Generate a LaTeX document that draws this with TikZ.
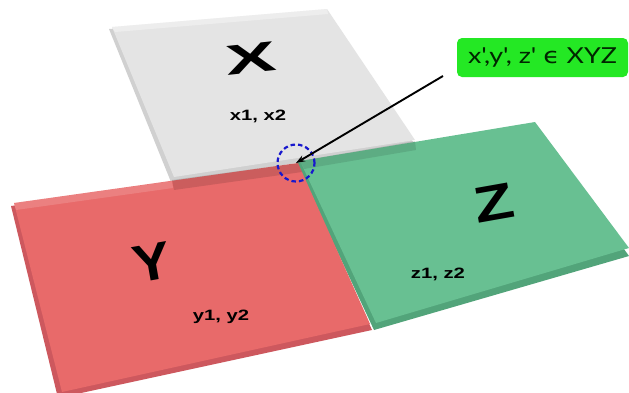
\documentclass[tikz,border=0pt]{standalone}
\usepackage{fontspec}
\setmainfont{Liberation Sans}
\newfontfamily\labelfont{Lato}
\newfontfamily\symfont{DejaVu Sans}
\usetikzlibrary{arrows.meta}
\definecolor{graytop}{RGB}{228,228,228}
\definecolor{grayside}{RGB}{208,208,208}
\definecolor{redtop}{RGB}{232,106,106}
\definecolor{redside}{RGB}{205,88,94}
\definecolor{greentop}{RGB}{104,192,146}
\definecolor{greenside}{RGB}{82,164,122}
\definecolor{labelgreen}{RGB}{36,232,36}
\definecolor{ringblue}{RGB}{24,24,205}
\begin{document}
\begin{tikzpicture}[x=1pt,y=-1pt,
  bigletter/.style={font=\bfseries\fontsize{42}{42}\selectfont, inner sep=0pt},
  smalllabel/.style={font=\bfseries\fontsize{15}{15}\selectfont, inner sep=0pt},
  ring/.style={circle, draw=ringblue, line width=2.2pt, dash pattern=on 4.5pt off 3pt, minimum size=37pt, inner sep=0pt},
  callout/.style={fill=labelgreen, rounded corners=5pt, minimum width=171pt, minimum height=39pt, inner sep=0pt, text=black!85!green, font=\labelfont\fontsize{22}{22}\selectfont},
  pointer/.style={-{Stealth[length=9pt,width=6.5pt]}, line width=1.9pt, black}]
\useasboundingbox (0,0) rectangle (629,392);
\fill[white] (0,0) rectangle (629,392);
% gray tile X
\fill[grayside] (109,29) -- (327,11) -- (415,145) -- (171,182) -- cycle;
\fill[graytop] (112,27) -- (327,9) -- (415,140) -- (174,177) -- cycle;
\fill[white,opacity=0.35] (112,27) -- (327,9) -- (328,14) -- (115,32) -- cycle;
% green tile Z
\fill[greenside] (296,163) -- (535,126) -- (629,256) -- (374,330) -- cycle;
\fill[greentop] (300,161) -- (535,122) -- (629,248) -- (376,323) -- cycle;
\fill[black,opacity=0.10] (300,161) -- (415,141) -- (416,150) -- (304,169) -- cycle;
% red tile Y
\fill[redside] (11,206) -- (298,166) -- (372,330) -- (58,398) -- cycle;
\fill[redtop] (14,203) -- (298,163) -- (370,324) -- (62,392) -- cycle;
\fill[black,opacity=0.12] (172,180) -- (298,163) -- (302,172) -- (174,190) -- cycle;
\fill[white,opacity=0.15] (14,203) -- (172,181) -- (173,188) -- (16,210) -- cycle;
% letters
\node[bigletter, rotate=6] (xbig) at (251,58) {\scalebox{1.8}[1.0]{X}};
\node[smalllabel] (xsub) at (258,116) {\scalebox{1.35}[1]{x1, x2}};
\node[bigletter, rotate=10] (ybig) at (152,262) {\scalebox{1.35}[1.25]{Y}};
\node[smalllabel] (ysub) at (221,317) {\scalebox{1.35}[1]{y1, y2}};
\node[bigletter, rotate=10] (zbig) at (494,203) {\scalebox{1.55}[1.2]{Z}};
\node[smalllabel] (zsub) at (438,274) {\scalebox{1.35}[1]{z1, z2}};
% callout
\node[callout] (label) at (542.5,57.5) {\scalebox{1.22}[1]{x',y', z' {\symfont ϵ} XYZ}};
\node[ring] (junction) at (296,163) {};
\coordinate (arrowstart) at (443,76);
\draw[pointer] (arrowstart) -- (junction.center);
\end{tikzpicture}
\end{document}
